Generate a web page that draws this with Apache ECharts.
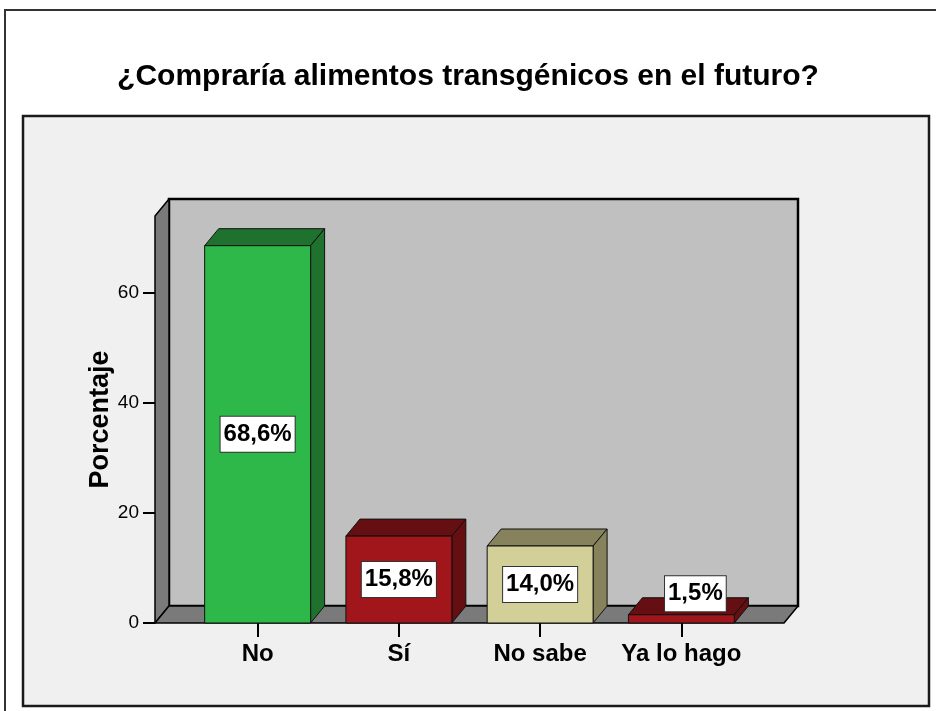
<!DOCTYPE html>
<html>
<head>
<meta charset="utf-8">
<style>
  html, body { margin: 0; padding: 0; background: #ffffff; }
  #chart { width: 936px; height: 711px; }
</style>
<script src="https://cdn.jsdelivr.net/npm/echarts@6/dist/echarts.min.js"></script>
</head>
<body>
<div id="chart"></div>
<script>
const categories = ['No', 'Sí', 'No sabe', 'Ya lo hago']
const percents = [68.6, 15.8, 14.0, 1.5]
const yTicks = [0, 20, 40, 60]
const yMax = 74

// colores: cara frontal y cara lateral/superior
const frontColors = ['#2fb84a', '#a0161a', '#d2cf98', '#a0161a']
const sideColors = ['#1e722e', '#650f12', '#85825c', '#650f12']

const FONT = '"Liberation Sans", Arial, sans-serif'
const DX = 14      // profundidad 3D en x
const DY = 17      // profundidad 3D en y
const EXTRA = 32   // el suelo sobresale de la rejilla

const chart = echarts.init(document.getElementById('chart'))

// paredes del "cubo": fondo, lateral izquierdo y suelo
const renderWalls = (params, api) => {
  const cs = params.coordSys
  const l = cs.x - EXTRA
  const r = cs.x + cs.width + EXTRA
  const t = cs.y
  const b = api.coord([0, 0])[1]
  const edge = { stroke: '#000', lineWidth: 1.5, lineJoin: 'round' }
  return {
    type: 'group',
    children: [
      {
        type: 'polygon',
        shape: { points: [[l + DX, t - DY], [r + DX, t - DY], [r + DX, b - DY], [l + DX, b - DY]] },
        style: { fill: '#c0c0c0', stroke: '#000', lineWidth: 2.5 }
      },
      {
        type: 'polygon',
        shape: { points: [[l, t], [l + DX, t - DY], [l + DX, b - DY], [l, b]] },
        style: { fill: '#7a7a7a', ...edge }
      },
      {
        type: 'polygon',
        shape: { points: [[l, b], [l + DX, b - DY], [r + DX, b - DY], [r, b]] },
        style: { fill: '#7a7a7a', ...edge }
      }
    ]
  }
}

const renderBar = (params, api) => {
  const i = api.value(0)
  const v = api.value(1)
  const base = api.coord([i, 0])
  const top = api.coord([i, v])
  const band = api.size([1, 0])[0]
  const w = band * 0.75
  const x0 = base[0] - w / 2
  const x1 = base[0] + w / 2
  const y0 = top[1]
  const y1 = base[1]
  const idx = params.dataIndex
  const line = { stroke: '#111', lineWidth: 1 }

  const txt = v.toFixed(1).replace('.', ',') + '%'
  let lx = base[0]
  let ly = (y0 + y1) / 2
  if (y1 - y0 < 30) {
    lx = base[0] + DX
    ly = y0 - 21
  }

  return {
    type: 'group',
    children: [
      {
        type: 'polygon',
        shape: { points: [[x0, y0], [x0 + DX, y0 - DY], [x1 + DX, y0 - DY], [x1, y0]] },
        style: { fill: sideColors[idx], ...line }
      },
      {
        type: 'polygon',
        shape: { points: [[x1, y0], [x1 + DX, y0 - DY], [x1 + DX, y1 - DY], [x1, y1]] },
        style: { fill: sideColors[idx], ...line }
      },
      {
        type: 'rect',
        shape: { x: x0, y: y0, width: w, height: y1 - y0 },
        style: { fill: frontColors[idx], ...line }
      },
      {
        type: 'text',
        x: lx,
        y: ly,
        style: {
          text: txt,
          font: 'bold 24px ' + FONT,
          fill: '#000',
          align: 'center',
          verticalAlign: 'middle',
          backgroundColor: '#fff',
          borderColor: '#333',
          borderWidth: 1,
          padding: [6, 3, 5, 3]
        }
      }
    ]
  }
}

const option = {
  backgroundColor: '#ffffff',
  animation: false,
  title: {
    text: '¿Compraría alimentos transgénicos en el futuro?',
    left: 'center',
    top: 57,
    textStyle: { fontFamily: FONT, fontSize: 30, fontWeight: 'bold', color: '#000' }
  },
  graphic: [
    {
      type: 'polyline',
      shape: { points: [[5, 711], [5, 10], [936, 10]] },
      style: { stroke: '#333', lineWidth: 2, fill: null },
      z: -10
    },
    {
      type: 'rect',
      shape: { x: 23, y: 116, width: 906, height: 590 },
      style: { fill: '#f0f0f0', stroke: '#1a1a1a', lineWidth: 2.5 },
      z: -10
    }
  ],
  grid: { left: 187, right: 184, top: 216, bottom: 88 },
  xAxis: {
    type: 'category',
    data: categories,
    boundaryGap: true,
    axisLine: { show: false },
    axisTick: { show: true, interval: 0, alignWithLabel: true, length: 14, lineStyle: { color: '#000', width: 2 } },
    axisLabel: { interval: 0, margin: 19, fontFamily: FONT, fontSize: 24, fontWeight: 'bold', color: '#000' },
    splitLine: { show: false }
  },
  yAxis: {
    type: 'value',
    min: 0,
    max: yMax,
    interval: 20,
    offset: EXTRA,
    name: 'Porcentaje',
    nameLocation: 'middle',
    nameRotate: 90,
    nameGap: 41,
    nameMoveOverlap: false,
    nameTextStyle: { fontFamily: FONT, fontSize: 27, fontWeight: 'bold', color: '#000' },
    axisLine: { show: false },
    axisTick: { show: true, length: 12, customValues: yTicks, lineStyle: { color: '#000', width: 2 } },
    axisLabel: { margin: 16, customValues: yTicks, fontFamily: FONT, fontSize: 19, color: '#000' },
    splitLine: { show: false }
  },
  series: [
    {
      type: 'custom',
      renderItem: renderWalls,
      data: [[0, 0]],
      encode: { x: 0, y: 1 },
      silent: true,
      z: 1
    },
    {
      type: 'custom',
      renderItem: renderBar,
      data: percents.map((v, i) => [i, v]),
      encode: { x: 0, y: 1 },
      z: 2
    }
  ]
}

chart.setOption(option)
</script>
</body>
</html>
